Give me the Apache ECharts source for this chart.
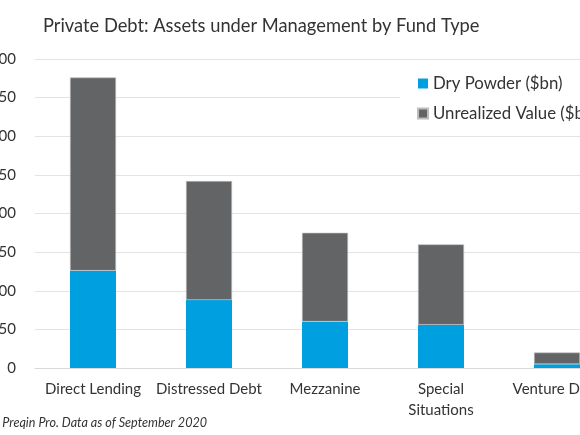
<!DOCTYPE html>
<html>
<head>
<meta charset="utf-8">
<script src="https://cdn.jsdelivr.net/npm/echarts@6/dist/echarts.min.js"></script>
<style>
  html, body { margin: 0; padding: 0; width: 580px; height: 435px; overflow: hidden; background: #fff; }
  /* the original picture is a crop of a wider figure, so the chart sticks out on both sides */
  #chart { position: absolute; left: -40px; top: 0; width: 700px; height: 435px; }
</style>
</head>
<body>
<div id="chart"></div>
<script>
// data ($bn)
const fundTypes = ['Direct Lending', 'Distressed Debt', 'Mezzanine', 'Special\nSituations', 'Venture Debt'];
const dryPowder = [126, 88, 60, 56, 5];
const unrealizedValue = [250, 154, 115, 104, 15];
const yTicks = { min: 0, max: 400, interval: 50 };

const textFont = 'Lato, "Noto Sans", sans-serif';
const chart = echarts.init(document.getElementById('chart'));

const option = {
  animation: false,
  backgroundColor: '#fff',
  title: {
    text: 'Private Debt: Assets under Management by Fund Type',
    left: 78,
    top: 12,
    textStyle: { fontFamily: textFont, fontSize: 18.3, fontWeight: 'normal', color: '#333' }
  },
  legend: {
    orient: 'vertical',
    left: 440,
    top: 64,
    padding: [11, 10, 11, 17],
    backgroundColor: '#fff',
    itemWidth: 10,
    itemHeight: 10,
    itemGap: 13,
    icon: 'rect',
    textStyle: { fontFamily: textFont, fontSize: 16.8, color: '#333' },
    data: ['Dry Powder ($bn)', 'Unrealized Value ($bn)']
  },
  grid: { left: 75, right: 45, top: 59, bottom: 67 },
  xAxis: {
    type: 'category',
    data: fundTypes,
    axisLine: { lineStyle: { color: '#d9d9d9' } },
    axisTick: { show: false },
    axisLabel: {
      interval: 0,
      margin: 11,
      fontFamily: textFont,
      fontSize: 15,
      lineHeight: 21,
      color: '#333'
    }
  },
  yAxis: {
    type: 'value',
    min: yTicks.min,
    max: yTicks.max,
    interval: yTicks.interval,
    axisLine: { show: false },
    axisTick: { show: false },
    splitLine: { lineStyle: { color: '#e3e3e3', width: 1 } },
    axisLabel: { margin: 19, fontFamily: textFont, fontSize: 15, color: '#333' }
  },
  series: [
    {
      name: 'Dry Powder ($bn)',
      type: 'bar',
      stack: 'aum',
      barWidth: 46,
      data: dryPowder,
      itemStyle: { color: '#009fdf' }
    },
    {
      name: 'Unrealized Value ($bn)',
      type: 'bar',
      stack: 'aum',
      barWidth: 46,
      data: unrealizedValue,
      itemStyle: { color: '#636466', borderColor: '#bdbdbd', borderWidth: 0.6 }
    }
  ],
  graphic: [
    {
      type: 'text',
      left: 1,
      top: 416,
      style: {
        text: 'Source: Preqin Pro. Data as of September 2020',
        fontFamily: textFont,
        fontSize: 12.6,
        fontStyle: 'italic',
        fill: '#333'
      }
    }
  ]
};

chart.setOption(option);
</script>
</body>
</html>
